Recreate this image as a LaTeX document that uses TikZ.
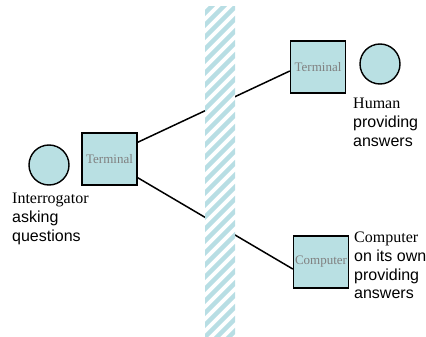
\documentclass[tikz,border=0pt]{standalone}
\usepackage{fontspec}
\setmainfont{Liberation Serif}
\setsansfont{Liberation Sans}
\usepackage{tikz}
\usetikzlibrary{positioning,calc}
\definecolor{termfill}{RGB}{185,224,227}
\definecolor{stripecol}{RGB}{184,222,228}

\begin{document}
\begin{tikzpicture}[
    x=1pt, y=-1pt,
    terminal/.style={rectangle, draw, line width=1.4pt, fill=termfill, minimum width=55pt, minimum height=52pt, inner sep=0pt, text=black!50, font=\fontsize{13}{15}\selectfont\rmfamily},
    person/.style={circle, draw, line width=1.4pt, fill=termfill, minimum size=40pt, inner sep=0pt},
    caption/.style={anchor=north west, align=left, inner sep=0pt, font=\fontsize{16}{18.7}\selectfont\sffamily},
    link/.style={line width=1.5pt},
    wallstripe/.style={line width=4.5pt, stripecol}
]
    \useasboundingbox (0,0) rectangle (426,337);

    % Interrogator side
    \node[person] (interrogator) at (49,165) {};
    \node[terminal] (lterm) at (109.5,159) {Terminal};
    \node[caption] (ilabel) at (12,193) {\rmfamily Interrogator\\asking\\questions};

    % Human side
    \node[terminal] (hterm) at (318,67) {Terminal};
    \node[person] (human) at (380,64) {};
    \node[caption] (hlabel) at (353,98) {\rmfamily Human\\providing\\answers};

    % Computer side
    \node[terminal] (cterm) at (321,262) {Computer};
    \node[caption] (clabel) at (354,232) {\rmfamily Computer\\on its own\\providing\\answers};

    % Links
    \draw[link] ([yshift=-10pt]lterm.north east) -- ([yshift=-4pt]hterm.west);
    \draw[link] ([yshift=8pt]lterm.south east) -- ([yshift=-7pt]cterm.west);

    % Wall
    \begin{scope}
        \clip (205,7) rectangle (235,337);
        \fill[white] (205,7) rectangle (235,337);
        \foreach \y in {-30,-18,...,380}
            \draw[wallstripe] (200,\y) -- (240,\y-40);
    \end{scope}
\end{tikzpicture}
\end{document}
